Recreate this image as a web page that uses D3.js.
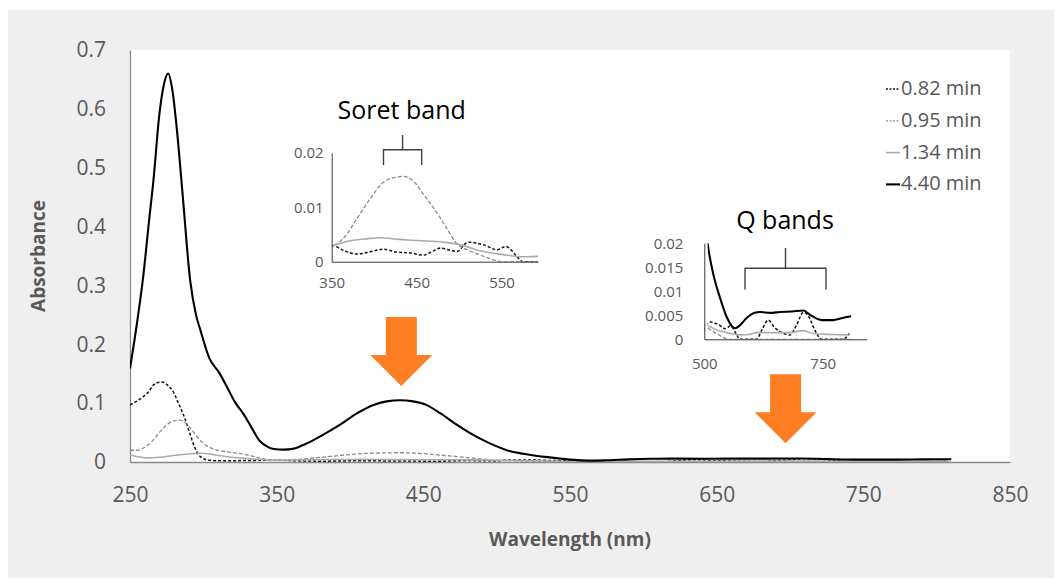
<!DOCTYPE html>
<html><head><meta charset="utf-8">
<script src="https://cdn.jsdelivr.net/npm/d3@7"></script>
<style>
body{margin:0;background:#fff}
svg{display:block}
text{font-family:"Open Sans",sans-serif}
</style>
</head><body>
<svg id="c" width="1059" height="579"></svg>
<script>
// ---------- DATA ----------
const seriesNames = ["0.82 min", "0.95 min", "1.34 min", "4.40 min"];

const wl082  = [250,255,259,263,266,269,272,275,279.5,283,286,290,293,296,298,304,315,330,350,365,380,395,411,425,443,458,470,478,490,498,508,512,529,545,555,568,575,610,622,635,648,660,681,695,709,719,733,748,793,806];
const abs082 = [0.097,0.104,0.111,0.12,0.131,0.135,0.136,0.132,0.119,0.10,0.083,0.055,0.032,0.015,0.009,0.003,0.002,0.0025,0.003,0.002,0.0014,0.0018,0.0023,0.0018,0.0016,0.0012,0.002,0.0025,0.0021,0.0019,0.0034,0.0036,0.0031,0.0022,0.0028,0.001,0,0,0.002,0.004,0.0025,0.0016,0.0009,0.003,0.0056,0.005,0.002,0,0,0.0012];

const wl095  = [250,255,260,265,270,275,280,284,288,292,296,300,305,312,320,328,335,342,350,365,380,395,410,425,435,445,460,474,486,498,510,529,552,600,700,810];
const abs095 = [0.02,0.02,0.025,0.035,0.05,0.063,0.07,0.071,0.066,0.055,0.042,0.032,0.024,0.019,0.016,0.013,0.009,0.005,0.003,0.0045,0.008,0.0115,0.0145,0.0155,0.0157,0.015,0.012,0.009,0.006,0.0032,0.0022,0.001,0,0,0,0];

const wl134  = [250,255,261,270,280,290,298,308,316,330,350,370,390,407,430,450,482,502,525,552,577,595,610,650,681,709,730,770,806];
const abs134 = [0.012,0.009,0.007,0.008,0.011,0.0135,0.0148,0.012,0.009,0.006,0.003,0.0038,0.0042,0.0044,0.0041,0.0039,0.0036,0.0031,0.002,0.0013,0.0009,0.001,0.0014,0.0014,0.0014,0.0018,0.0012,0.001,0.0009];

const wl440  = [250,255,259,263,266,270,273,276,279,282,286,291,295,298,304,311,316,322,327,333,338,343,348,355,362,370,380,393,405,416,425,434,443,452,462,473,484,495,507,518,533,548,565,575,590,605,618,639,660,685,709,725,748,772,790,810];
const abs440 = [0.159,0.24,0.315,0.41,0.479,0.59,0.64,0.66,0.63,0.564,0.451,0.309,0.25,0.224,0.177,0.151,0.128,0.10,0.083,0.058,0.037,0.027,0.022,0.021,0.023,0.031,0.044,0.063,0.083,0.097,0.103,0.105,0.103,0.097,0.082,0.063,0.046,0.032,0.020,0.014,0.0087,0.0045,0.0023,0.0029,0.0045,0.0055,0.0057,0.0055,0.0057,0.0058,0.006,0.005,0.004,0.004,0.0044,0.0048];

const xTicks = [250,350,450,550,650,750,850];
const yTicks = [0,0.1,0.2,0.3,0.4,0.5,0.6,0.7];
const soretXTicks = [350,450,550];
const soretYTicks = [0,0.01,0.02];
const qXTicks = [500,750];
const qYTicks = [0,0.005,0.01,0.015,0.02];

const arrowWl  = [435, 697];
const arrowTip = [0.129, 0.032];

// ---------- STYLE ----------
const styles = [
  {color:"#111", width:1.5, dash:"3,2"},
  {color:"#8c8c8c", width:1.3, dash:"4,2"},
  {color:"#ababab", width:1.6, dash:null},
  {color:"#000", width:2.1, dash:null}
];
const series = [
  {wl:wl082, abs:abs082},
  {wl:wl095, abs:abs095},
  {wl:wl134, abs:abs134},
  {wl:wl440, abs:abs440}
].map((s,i)=>({name:seriesNames[i], pts:s.wl.map((w,j)=>[w,s.abs[j]]), st:styles[i]}));

const svg = d3.select("#c");
const txt = "#595959";

svg.append("rect").attr("x",8).attr("y",10).attr("width",1046).attr("height",568).attr("fill","#efefef");

// main plot
const X0=130, X1=1010, Y0=462, Y1=50;
svg.append("rect").attr("x",X0).attr("y",Y1).attr("width",X1-X0).attr("height",Y0-Y1).attr("fill","#fff");

const x = d3.scaleLinear().domain([250,850]).range([X0,X1]);
const y = d3.scaleLinear().domain([0,0.7]).range([Y0,Y1]);

const gx = svg.append("g").attr("transform",`translate(0,${Y0})`)
  .call(d3.axisBottom(x).tickValues(xTicks).tickSize(0).tickPadding(25).tickFormat(d3.format("d")));
const gy = svg.append("g").attr("transform",`translate(${X0},0)`)
  .call(d3.axisLeft(y).tickValues(yTicks).tickSize(0).tickPadding(24).tickFormat(d=>d===0?"0":d3.format(".1f")(d)));
[gx,gy].forEach(g=>{
  g.select(".domain").attr("stroke","#8a8a8a").attr("stroke-width",1.3);
  g.selectAll("text").attr("fill",txt).style("font-size","21px").style("font-family","Open Sans");
});

svg.append("text").attr("x",(X0+X1)/2).attr("y",546).attr("text-anchor","middle")
  .attr("fill",txt).style("font-size","19px").style("font-weight","bold").text("Wavelength (nm)");
svg.append("text").attr("transform",`translate(45,${(Y0+Y1)/2}) rotate(-90)`).attr("text-anchor","middle")
  .attr("fill",txt).style("font-size","19px").style("font-weight","bold").text("Absorbance");

svg.append("clipPath").attr("id","mainclip").append("rect").attr("x",X0).attr("y",Y1-5).attr("width",X1-X0).attr("height",Y0-Y1+5);

const line = (sx,sy)=>d3.line().x(d=>sx(d[0])).y(d=>sy(d[1])).curve(d3.curveMonotoneX);

const gm = svg.append("g").attr("clip-path","url(#mainclip)");
series.forEach(s=>{
  gm.append("path").attr("d",line(x,y)(s.pts)).attr("fill","none")
    .attr("stroke",s.st.color).attr("stroke-width",s.st.width).attr("stroke-dasharray",s.st.dash)
    .attr("stroke-linejoin","round");
});

// legend
const lg = svg.append("g");
series.forEach((s,i)=>{
  const yy = 88 + i*31.8;
  lg.append("line").attr("x1",886).attr("x2",900).attr("y1",yy+1).attr("y2",yy+1)
    .attr("stroke",s.st.color).attr("stroke-width",s.st.width).attr("stroke-dasharray",s.st.dash?"2,1.5":null);
  lg.append("text").attr("x",901).attr("y",yy).attr("dy","0.35em").attr("fill",txt)
    .style("font-size","20px").text(s.name);
});

// arrows
arrowWl.forEach((w,i)=>{
  const cx = x(w), ty = y(arrowTip[i]);
  const L=69, hl=31, sw=15.5, hw=31;
  const pts = [[cx-sw,ty-L],[cx+sw,ty-L],[cx+sw,ty-hl],[cx+hw,ty-hl],[cx,ty],[cx-hw,ty-hl],[cx-sw,ty-hl]];
  svg.append("polygon").attr("points",pts.map(p=>p.join(",")).join(" ")).attr("fill","#fd7e23");
});

// insets
function inset(cfg){
  const sx = d3.scaleLinear().domain(cfg.xd).range(cfg.xr);
  const sy = d3.scaleLinear().domain(cfg.yd).range(cfg.yr);
  const g = svg.append("g");
  const id = "clip"+cfg.id;
  svg.append("clipPath").attr("id",id).append("rect")
    .attr("x",cfg.xr[0]).attr("y",cfg.yr[1]).attr("width",cfg.xr[1]-cfg.xr[0]).attr("height",cfg.yr[0]-cfg.yr[1]);
  const gl = g.append("g").attr("clip-path",`url(#${id})`);
  cfg.series.forEach(s=>{
    const pts = s.pts.filter(p=>p[0]>=cfg.from-40 && p[0]<=cfg.xd[1]+40);
    gl.append("path").attr("d",line(sx,sy)(pts)).attr("fill","none")
      .attr("stroke",s.st.color).attr("stroke-width",s.st.width).attr("stroke-dasharray",s.st.dash);
  });
  if(cfg.from>cfg.xd[0]){
    g.append("rect").attr("x",cfg.xr[0]+0.5).attr("y",cfg.yr[1]).attr("width",sx(cfg.from)-cfg.xr[0]-0.5).attr("height",cfg.yr[0]-cfg.yr[1]-0.5).attr("fill","#fff");
  }
  const ax = g.append("g").attr("transform",`translate(0,${cfg.yr[0]})`)
    .call(d3.axisBottom(sx).tickValues(cfg.xt).tickSize(0).tickPadding(cfg.xpad).tickFormat(d3.format("d")));
  const ay = g.append("g").attr("transform",`translate(${cfg.xr[0]},0)`)
    .call(d3.axisLeft(sy).tickValues(cfg.yt).tickSize(0).tickPadding(cfg.ypad).tickFormat(d=>d===0?"0":String(+d.toFixed(3))));
  [ax,ay].forEach(a=>{
    a.select(".domain").attr("stroke","#3a3a3a").attr("stroke-width",1);
    a.selectAll("text").attr("fill",txt).style("font-size","15px").style("font-family","Open Sans");
  });
  svg.append("text").attr("x",cfg.tx).attr("y",cfg.ty).attr("text-anchor","middle").attr("fill","#000")
    .style("font-size","25px").text(cfg.title);
  const b = cfg.br, bx0=sx(b[0]), bx1=sx(b[1]), by=sy(b[2]), bye=sy(b[3]), byt=sy(b[4]);
  svg.append("path").attr("d",`M${bx0},${bye}V${by}H${bx1}V${bye}M${(bx0+bx1)/2},${by}V${byt}`)
    .attr("fill","none").attr("stroke","#404040").attr("stroke-width",1.4);
}

inset({id:"s", xd:[350,593], xr:[331.7,538], yd:[0,0.02], yr:[261.7,153], from:350,
  xt:soretXTicks, yt:soretYTicks, xpad:16, ypad:8,
  series:series.slice(0,3), title:"Soret band", tx:401.7, ty:119,
  br:[411,456,0.0206,0.0178,0.0233]});

inset({id:"q", xd:[500,843], xr:[704.3,866.7], yd:[0,0.02], yr:[339.3,243.3], from:507,
  xt:qXTicks, yt:qYTicks, xpad:19, ypad:21,
  series:series, title:"Q bands", tx:785, ty:229,
  br:[586,757,0.0148,0.0104,0.019]});
</script>
</body></html>
